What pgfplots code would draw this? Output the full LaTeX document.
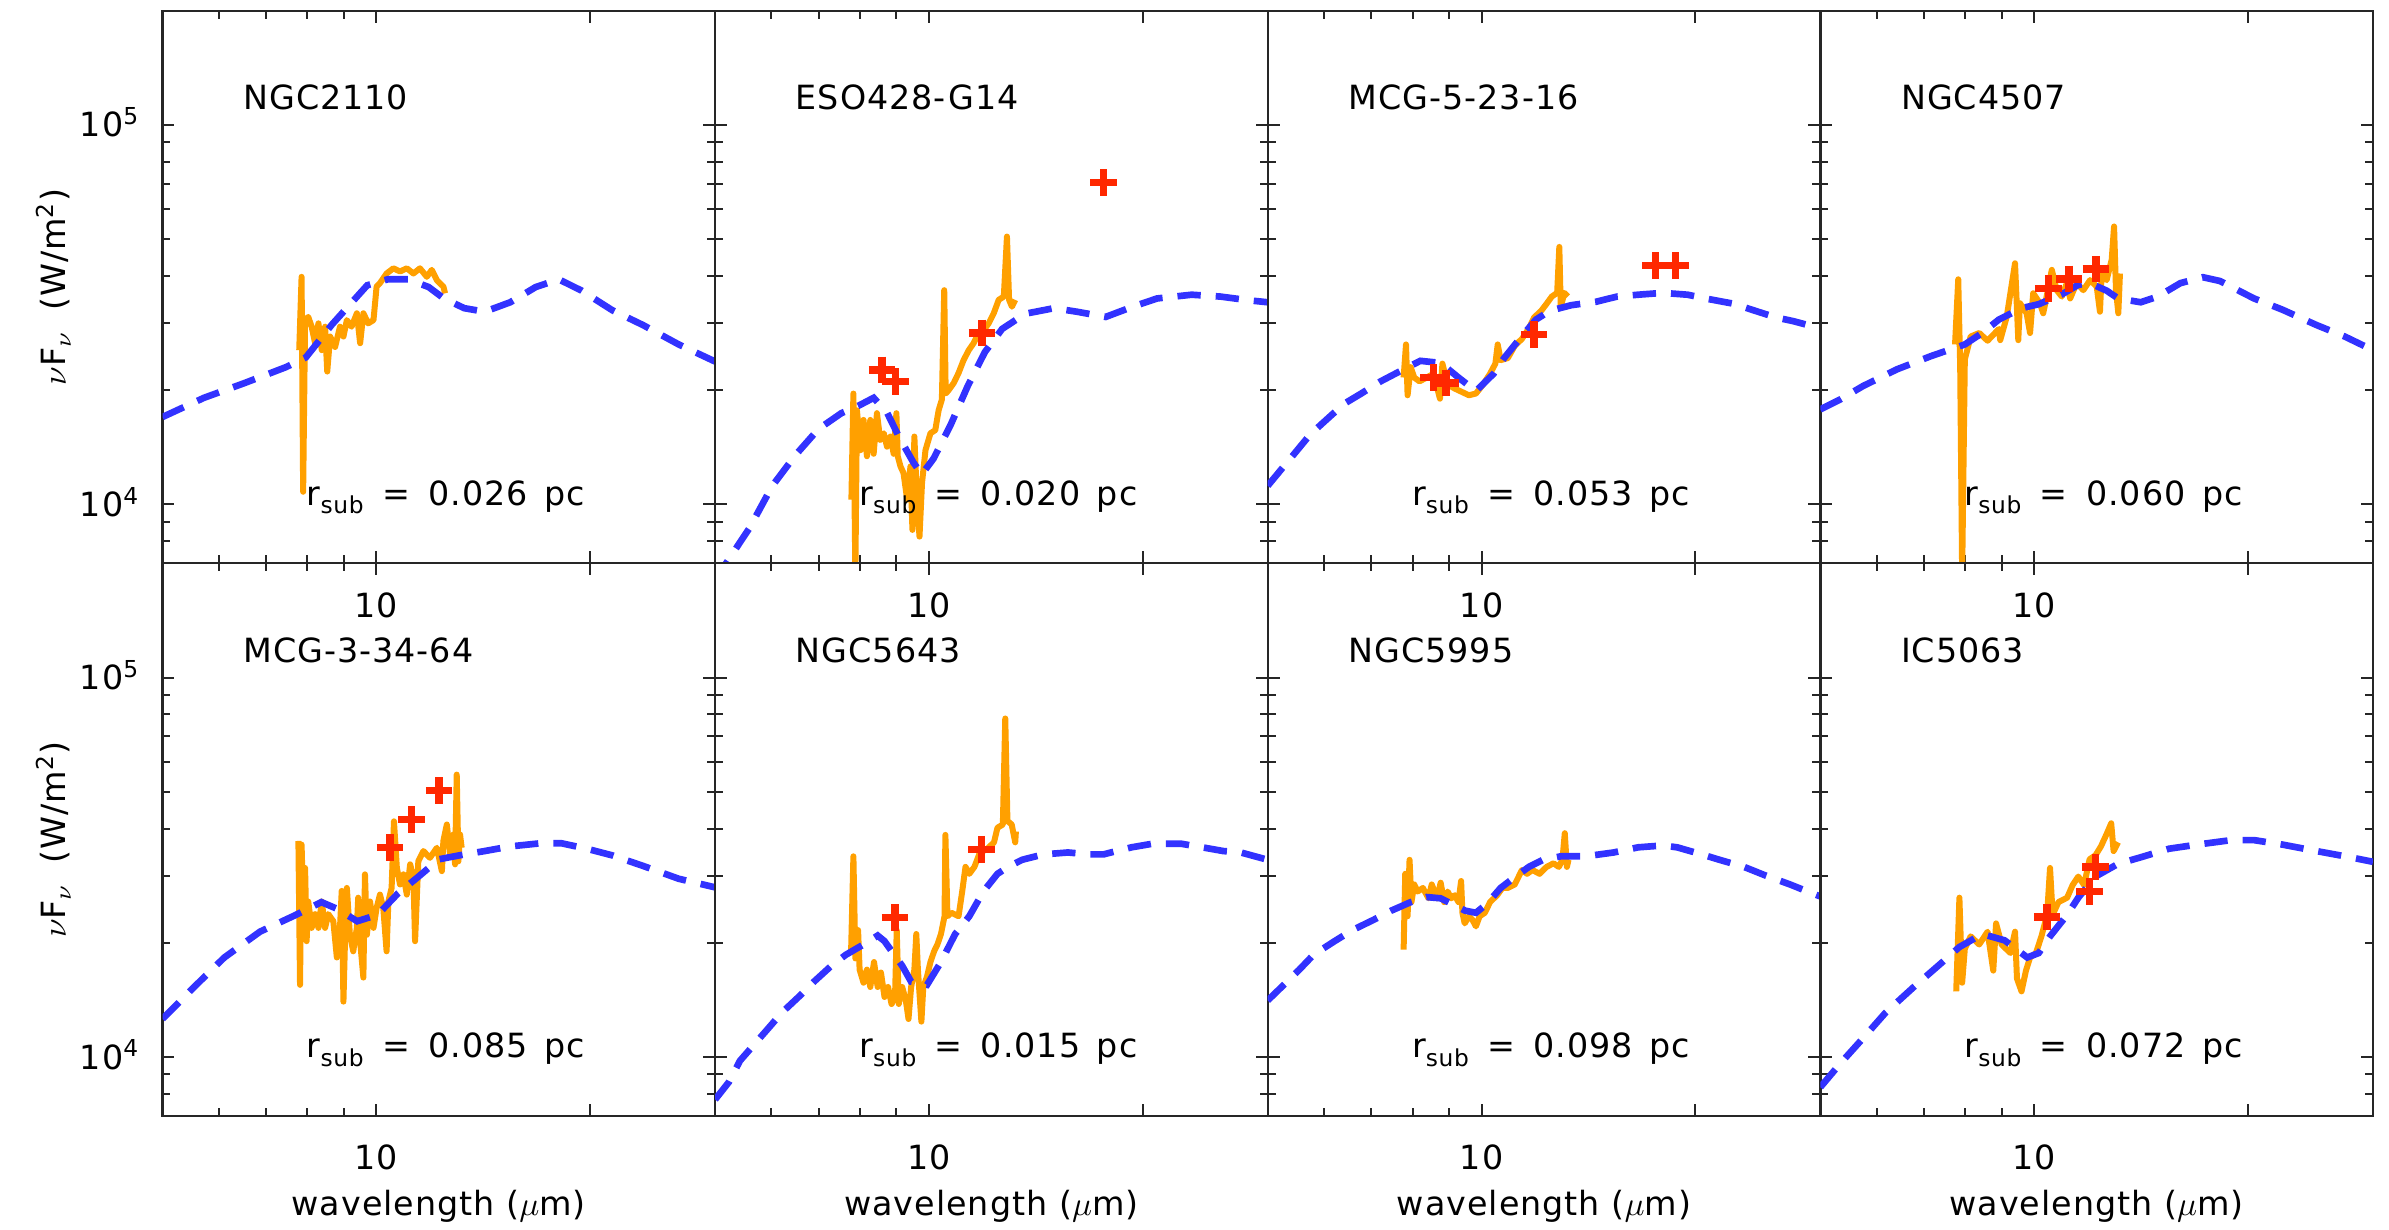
\documentclass[border=0pt]{standalone}
\usepackage{fontspec}
\setmainfont{DejaVu Sans}[LetterSpace=3]
\usepackage{pgfplots}
\pgfplotsset{compat=1.18}
\definecolor{cSpec}{RGB}{255,160,0}
\definecolor{cModel}{RGB}{50,50,255}
\definecolor{cPhot}{RGB}{255,40,0}
\newcommand{\rsub}[1]{r\raisebox{-2.6pt}{\fontsize{7}{8}\selectfont sub}\hspace{5.5pt}=\hspace{5.5pt}#1\hspace{5pt}pc}
\pgfplotsset{every axis/.append style={
  scale only axis, width=165.78pt, height=165.78pt,
  xmin=5, xmax=30, ymin=7000, ymax=2e5,
  xtick={10,20}, xticklabels={10,{}}, minor xtick={6,7,8,9},
  ytick={1e4,1e5}, minor ytick={8000,9000,20000,30000,40000,50000,60000,70000,80000,90000},
  tick align=inside, major tick length=3.6pt, minor tick length=2.4pt,
  tick style={black!85, line width=0.6pt},
  axis line style={black!85, line width=0.7pt},
  xticklabel style={anchor=center, yshift=-12.5pt, inner sep=0pt},
  yticklabel style={anchor=base east, inner sep=0pt, xshift=-6.6pt, yshift=-3.6pt},
  ylabel style={at={(axis description cs:-0.197,0.5)}, anchor=center},
  xlabel style={at={(axis description cs:0.5,0)}, anchor=center, yshift=-27.2pt},
}}
\pgfkeys{/pgf/number format/assume math mode=true}
\tikzset{
 sedspec/.style={color=cSpec, line width=1.8pt, line join=round},
 sedmodel/.style={color=cModel, line width=2pt, dash pattern=on 7pt off 4.5pt},
 sedphot/.style={mark=+, mark size=4pt, color=cPhot, line width=2.2pt},
}
\newcommand{\lab}[2]{%
 \node[anchor=west, inner sep=0pt] at (axis description cs:0.145,0.843) {#1};
 \node[anchor=base west, inner sep=0pt] at (axis description cs:0.26,0.105) {\rsub{#2}};}
\newcommand{\ylab}{$\nu$F$_{\nu}$\hspace{6pt}(W/m\textsuperscript{2})}
\newcommand{\xlab}{wavelength ($\mu$m)}
\begin{document}
\begin{tikzpicture}
\path[use as bounding box] (-48.75pt,-365.56pt) rectangle (667.95pt,3.21pt);
% ---------------- NGC2110
\begin{loglogaxis}[anchor=north west, at={(0pt,0pt)}, yticklabels={10\textsuperscript{4},10\textsuperscript{5}}, ylabel={\ylab}]
\addplot[sedspec, no markers] coordinates {(7.79,25500)(7.85,39800)(7.89,10800)(7.94,30600)(8.02,31200)(8.11,29400)(8.20,26600)(8.29,30000)(8.38,25500)(8.47,29400)(8.53,22400)(8.61,27700)(8.75,26000)(8.89,29400)(8.99,27700)(9.09,30600)(9.23,29400)(9.39,31900)(9.49,26600)(9.59,31900)(9.74,30000)(9.91,30600)(10.01,37500)(10.12,38300)(10.34,40600)(10.57,41900)(10.80,41100)(11.04,41900)(11.28,40600)(11.52,41900)(11.78,39800)(11.97,41500)(12.17,39000)(12.43,37500)(12.50,36000)};
\addplot[sedmodel, no markers] coordinates {(5.0,17000)(5.72,19100)(6.53,20900)(7.46,23000)(7.96,24400)(8.65,29700)(9.24,34100)(9.71,37800)(10.38,39200)(11.09,39200)(11.85,37400)(12.45,34900)(13.30,32900)(14.21,32200)(15.44,34100)(16.77,37400)(18.07,39200)(19.46,36600)(21.49,32500)(23.74,29700)(26.66,26400)(30,23800)};
\lab{NGC2110}{0.026}
\end{loglogaxis}
% ---------------- ESO428-G14
\begin{loglogaxis}[anchor=north west, at={(165.78pt,0pt)}, yticklabels={}]
\addplot[sedspec, no markers] coordinates {(7.78,10300)(7.83,19600)(7.88,6500)(7.92,17700)(8.01,13900)(8.09,16700)(8.18,13400)(8.27,16700)(8.36,13600)(8.45,17400)(8.54,14800)(8.64,15400)(8.73,14200)(8.83,15100)(8.92,13600)(9.00,17400)(9.04,13400)(9.12,12600)(9.21,12100)(9.32,10300)(9.42,12600)(9.48,8570)(9.54,15100)(9.62,10300)(9.70,8230)(9.78,11400)(9.89,13900)(10.05,15400)(10.21,15700)(10.32,17700)(10.43,18900)(10.51,36700)(10.56,19600)(10.66,20000)(10.84,20900)(11.01,22200)(11.19,24000)(11.38,25500)(11.56,26600)(11.75,28300)(11.94,28800)(12.14,30000)(12.34,31900)(12.54,34600)(12.75,35300)(12.88,50800)(12.97,34600)(13.09,33200)(13.23,34600)};
\addplot[sedmodel, no markers] coordinates {(5.0,6300)(5.19,7030)(5.59,8670)(6.02,11200)(6.49,13500)(6.99,15800)(7.53,17400)(7.96,18200)(8.36,19100)(8.74,17400)(9.07,15100)(9.51,12900)(9.77,12000)(10.15,13200)(10.73,16200)(11.34,20500)(11.99,25200)(12.68,29000)(13.66,31800)(15.0,32900)(16.16,32200)(17.74,31200)(19.46,33300)(20.96,34900)(23.44,35700)(25.73,35300)(28.24,34500)(30,34100)};
\addplot[sedphot, only marks] coordinates {(8.59,22600)(8.97,21100)(11.88,28300)(17.63,70400)};
\lab{ESO428-G14}{0.020}
\end{loglogaxis}
% ---------------- MCG-5-23-16
\begin{loglogaxis}[anchor=north west, at={(331.56pt,0pt)}, yticklabels={}]
\addplot[sedspec, no markers] coordinates {(7.77,21600)(7.83,26400)(7.87,19400)(7.95,23000)(8.04,21600)(8.18,21100)(8.37,21600)(8.56,22100)(8.74,19000)(8.81,23500)(8.96,20700)(9.17,20200)(9.38,19800)(9.60,19400)(9.82,19600)(10.05,20700)(10.28,22100)(10.46,23500)(10.54,26400)(10.64,24000)(10.89,24300)(11.14,26200)(11.40,27300)(11.66,29100)(11.86,31100)(12.14,32400)(12.35,33800)(12.56,35300)(12.78,36100)(12.87,47700)(12.93,33100)(13.08,36100)(13.23,35300)};
\addplot[sedmodel, no markers] coordinates {(5.0,11200)(5.23,12400)(5.45,13600)(5.74,15300)(6.00,16500)(6.40,18400)(6.77,19600)(7.21,21100)(7.70,22500)(8.20,23900)(8.76,23600)(9.28,21600)(9.82,19900)(10.40,22100)(10.76,24300)(11.26,27000)(11.93,30700)(12.49,32400)(13.38,33500)(14.49,34200)(15.52,35300)(16.62,35700)(18.0,36100)(19.51,35700)(20.66,34900)(22.64,33800)(24.26,32400)(25.98,31100)(27.5,30400)(30,29100)};
\addplot[sedphot, only marks] coordinates {(8.56,21600)(8.91,20900)(11.86,28000)(17.6,42600)(18.75,42600)};
\lab{MCG-5-23-16}{0.053}
\end{loglogaxis}
% ---------------- NGC4507
\begin{loglogaxis}[anchor=north west, at={(497.34pt,0pt)}, yticklabels={}]
\addplot[sedspec, no markers] coordinates {(7.74,26400)(7.82,39200)(7.87,23000)(7.92,6500)(7.99,24100)(8.14,27700)(8.37,28300)(8.60,27000)(8.92,29000)(8.96,27100)(9.15,31200)(9.40,43200)(9.50,27100)(9.55,33900)(9.76,31900)(9.87,28300)(9.97,36000)(10.19,33900)(10.30,31900)(10.47,37100)(10.59,41500)(10.76,36700)(10.94,35300)(11.12,38300)(11.24,34900)(11.48,38300)(11.73,36700)(11.99,39000)(12.25,37500)(12.38,32200)(12.45,40600)(12.65,39000)(12.86,44100)(12.96,54000)(13.04,36700)(13.14,31900)(13.21,40600)};
\addplot[sedmodel, no markers] coordinates {(5.0,17800)(5.33,18900)(5.74,20500)(6.41,22700)(7.16,24600)(7.99,26400)(8.45,28300)(8.92,30700)(9.60,32900)(10.15,33700)(10.92,35700)(11.54,37900)(11.97,38300)(12.65,36600)(13.13,34900)(14.13,34100)(14.93,35300)(16.07,38300)(17.29,39700)(18.27,38800)(20.40,34900)(22.37,32600)(24.98,29700)(27.38,27700)(30,25500)};
\addplot[sedphot, only marks] coordinates {(10.47,37100)(11.20,39300)(12.22,41700)};
\lab{NGC4507}{0.060}
\end{loglogaxis}
% ---------------- MCG-3-34-64
\begin{loglogaxis}[anchor=north west, at={(0pt,-165.78pt)}, yticklabels={10\textsuperscript{4},10\textsuperscript{5}}, ylabel={\ylab}, xlabel={\xlab}]
\addplot[sedspec, no markers] coordinates {(7.77,37100)(7.81,15500)(7.85,36300)(7.89,25700)(7.94,31500)(7.98,20200)(8.02,25700)(8.11,21900)(8.20,23800)(8.29,21900)(8.38,25700)(8.47,21900)(8.56,23800)(8.70,22800)(8.80,18300)(8.89,21900)(8.94,27400)(8.99,14000)(9.04,21000)(9.09,27900)(9.18,21000)(9.28,19000)(9.39,21900)(9.43,26300)(9.49,20200)(9.59,16200)(9.64,30300)(9.70,21000)(9.80,25700)(9.91,21900)(10.01,24700)(10.12,26800)(10.23,24700)(10.34,19000)(10.40,25700)(10.51,27900)(10.59,41800)(10.69,31500)(10.80,28500)(10.92,30300)(11.04,26800)(11.16,32200)(11.28,29700)(11.34,20200)(11.46,32800)(11.65,34900)(11.90,33500)(12.17,35600)(12.37,30900)(12.43,37100)(12.57,41000)(12.70,34200)(12.84,38600)(12.91,32200)(12.98,55500)(13.05,32800)(13.12,38600)(13.19,35600)};
\addplot[sedmodel, no markers] coordinates {(5.0,12600)(5.54,15300)(6.11,18300)(6.86,21400)(7.71,23700)(8.37,25600)(8.80,24600)(9.40,22800)(10.04,23700)(10.73,27000)(11.47,29900)(12.25,33200)(13.09,34000)(14.21,34900)(15.44,35900)(17.05,36600)(18.22,36600)(19.79,35400)(21.49,34000)(23.74,31900)(26.66,29500)(30,28000)};
\addplot[sedphot, only marks] coordinates {(10.45,35600)(11.22,42300)(12.26,50400)};
\lab{MCG-3-34-64}{0.085}
\end{loglogaxis}
% ---------------- NGC5643
\begin{loglogaxis}[anchor=north west, at={(165.78pt,-165.78pt)}, yticklabels={}, xlabel={\xlab}]
\addplot[sedspec, no markers] coordinates {(7.77,18600)(7.83,33800)(7.88,18200)(7.95,21600)(7.99,17000)(8.09,15700)(8.18,17000)(8.27,15300)(8.37,17800)(8.47,15300)(8.56,16700)(8.66,14400)(8.76,15300)(8.86,13800)(8.96,14400)(9.01,21600)(9.07,13800)(9.17,15300)(9.28,14100)(9.36,12600)(9.44,15300)(9.54,17000)(9.60,21100)(9.65,17000)(9.76,12400)(9.82,15300)(9.94,16300)(10.05,17800)(10.17,19000)(10.28,19800)(10.40,21100)(10.52,23500)(10.55,38500)(10.62,23500)(10.76,24000)(11.01,23500)(11.14,27300)(11.26,31700)(11.40,30400)(11.59,31700)(11.80,34600)(12.07,35300)(12.35,36800)(12.49,40200)(12.71,41000)(12.81,78000)(12.90,41900)(13.08,41000)(13.23,36800)(13.26,39300)};
\addplot[sedmodel, no markers] coordinates {(5.0,7730)(5.23,8600)(5.42,9780)(5.94,11900)(6.21,13100)(6.58,14500)(6.89,15800)(7.29,17400)(7.64,18600)(8.09,19800)(8.47,20900)(8.66,20200)(9.17,17400)(9.44,15800)(9.94,15500)(10.40,17800)(10.89,21100)(11.40,23500)(11.93,27300)(12.49,30400)(12.93,31700)(13.53,33100)(14.49,34200)(15.70,34600)(16.82,34200)(17.61,34200)(19.29,35700)(20.66,36500)(22.64,36500)(24.26,35700)(25.98,34900)(27.5,34600)(30,33100)};
\addplot[sedphot, only marks] coordinates {(8.96,23300)(11.86,35300)};
\lab{NGC5643}{0.015}
\end{loglogaxis}
% ---------------- NGC5995
\begin{loglogaxis}[anchor=north west, at={(331.56pt,-165.78pt)}, yticklabels={}, xlabel={\xlab}]
\addplot[sedspec, no markers] coordinates {(7.77,19200)(7.81,30400)(7.87,23500)(7.92,33100)(7.97,25600)(8.04,28500)(8.13,27300)(8.27,27900)(8.42,26200)(8.51,28500)(8.66,26200)(8.76,28800)(8.86,25600)(8.96,27300)(9.07,26200)(9.17,26700)(9.28,25600)(9.36,29100)(9.40,24000)(9.47,22500)(9.60,23500)(9.71,23000)(9.82,22100)(9.94,23500)(10.11,24000)(10.28,25600)(10.52,26700)(10.70,27900)(10.89,27900)(11.14,28500)(11.40,31100)(11.59,30400)(11.80,31100)(12.07,30400)(12.35,31700)(12.63,32400)(12.85,31700)(13.00,33100)(13.10,38900)(13.19,31700)(13.26,33100)};
\addplot[sedmodel, no markers] coordinates {(5.0,14100)(5.23,15300)(5.54,17000)(5.80,18600)(6.21,20200)(6.58,21600)(7.05,23000)(7.46,24300)(7.95,25600)(8.37,26400)(8.76,26200)(9.17,25100)(9.49,24300)(9.82,24000)(10.17,25300)(10.64,27900)(11.14,29800)(11.66,31700)(12.21,33100)(12.93,33800)(14.01,33800)(15.35,34600)(16.62,35700)(18.0,36100)(18.86,35700)(20.43,34200)(21.63,33100)(23.43,31700)(25.10,30100)(27.19,28500)(28.79,27300)(30,26500)};
\lab{NGC5995}{0.098}
\end{loglogaxis}
% ---------------- IC5063
\begin{loglogaxis}[anchor=north west, at={(497.34pt,-165.78pt)}, yticklabels={}, xlabel={\xlab}]
\addplot[sedspec, no markers] coordinates {(7.77,14900)(7.85,26300)(7.92,15700)(7.99,19300)(8.14,20800)(8.37,19800)(8.60,21400)(8.76,16900)(8.84,22500)(9.00,19800)(9.26,18800)(9.40,21400)(9.46,16100)(9.60,14900)(9.74,16900)(9.87,18300)(10.06,18800)(10.24,20800)(10.43,23700)(10.53,31500)(10.62,23700)(10.82,25600)(11.13,26300)(11.33,28400)(11.54,29900)(11.76,28400)(11.97,33200)(12.20,34000)(12.42,35900)(12.65,38700)(12.84,41300)(12.94,34900)(13.13,36800)};
\addplot[sedmodel, no markers] coordinates {(5.0,8330)(5.33,9600)(5.74,11200)(6.18,13100)(6.77,15300)(7.43,17800)(7.85,19500)(8.45,21100)(9.09,20300)(9.78,18300)(10.15,18800)(10.53,20800)(11.13,23700)(11.54,26300)(12.20,29900)(13.13,32300)(14.13,33600)(15.49,35400)(16.98,36300)(18.95,37300)(20.40,37300)(22.37,36300)(24.98,34900)(27.89,33600)(30,32700)};
\addplot[sedphot, only marks] coordinates {(10.43,23400)(11.97,27300)(12.20,31700)};
\lab{IC5063}{0.072}
\end{loglogaxis}
\end{tikzpicture}
\end{document}
